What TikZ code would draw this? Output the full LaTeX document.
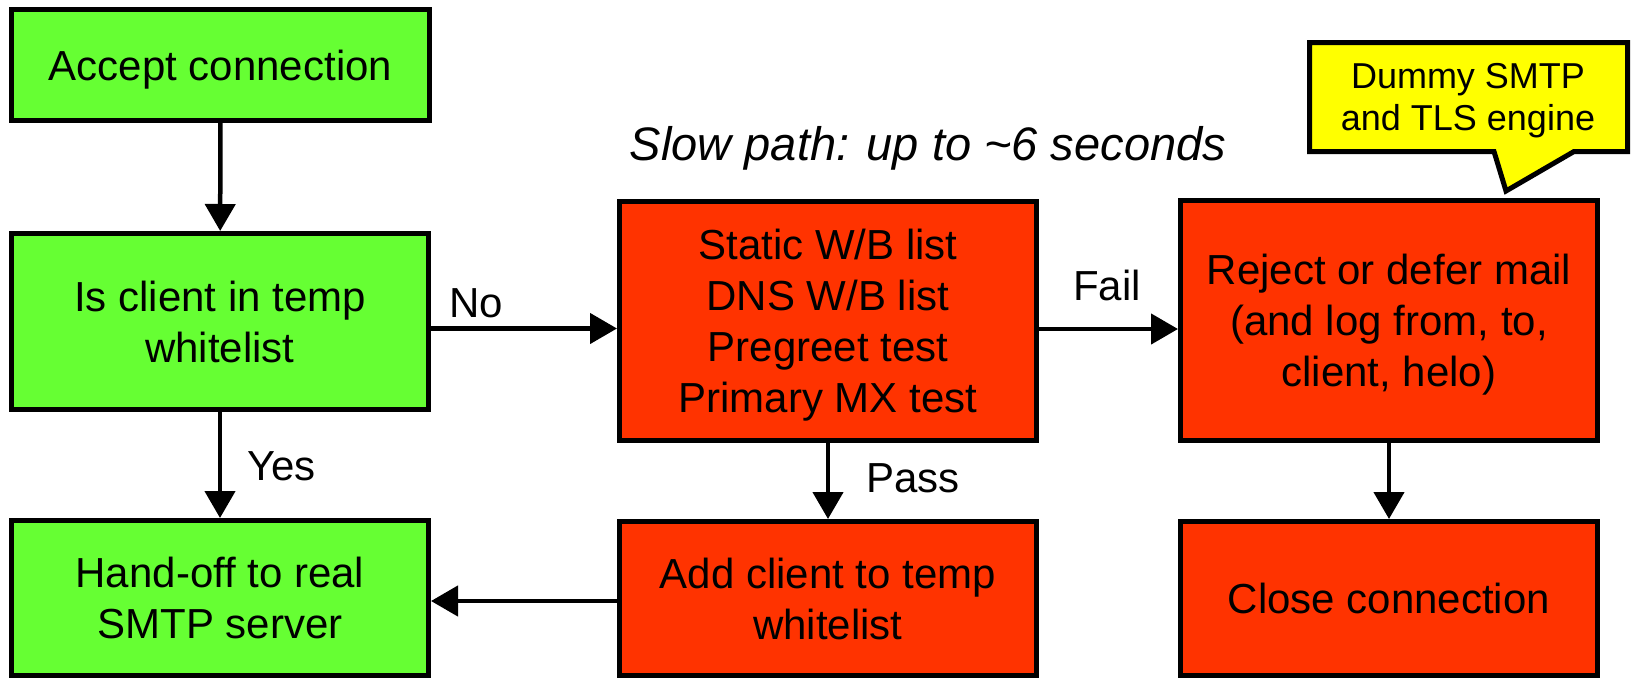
\documentclass[tikz,border=0pt]{standalone}
\usepackage{fontspec}
\setmainfont{Liberation Sans}
\usetikzlibrary{arrows.meta}
\definecolor{boxgreen}{RGB}{102,255,51}
\definecolor{boxred}{RGB}{255,51,0}
\definecolor{noteyellow}{RGB}{255,255,0}
\tikzset{
  stepbox/.style={draw=black, line width=5pt, rectangle, inner sep=0pt, align=center,
    minimum width=417pt, text depth=0pt, font=\fontsize{42}{51}\selectfont},
  greenbox/.style={stepbox, fill=boxgreen},
  redbox/.style={stepbox, fill=boxred},
  arr/.style={line width=4.5pt, -{Triangle[length=27pt,width=30pt]}},
  lbl/.style={inner sep=0pt, anchor=base west, font=\fontsize{42}{50}\selectfont},
}
\begin{document}
\begin{tikzpicture}[x=1pt,y=-1pt]
\useasboundingbox (0,0) rectangle (1631,680);

% nodes
\node[greenbox, minimum width=418pt, minimum height=111pt] (accept) at (220.5,65) {Accept connection};
\node[greenbox, minimum height=176pt] (wl) at (220,321.5) {Is client in temp\\whitelist};
\node[greenbox, minimum height=155pt] (handoff) at (220,598) {Hand-off to real\\SMTP server};
\node[redbox, minimum height=239pt] (static) at (828,321) {Static W/B list\\DNS W/B list\\Pregreet test\\Primary MX test};
\node[redbox, minimum height=154pt] (add) at (828,598.5) {Add client to temp\\whitelist};
\node[redbox, minimum height=240pt] (reject) at (1389,320.5) {Reject or defer mail\\(and log from, to,\\client, helo)};
\node[redbox, minimum height=154pt] (close) at (1389,598.5) {Close connection};

% callout
\filldraw[fill=noteyellow, draw=black, line width=5pt, line join=miter]
  (1309.5,42.5) -- (1627.5,42.5) -- (1627.5,151.5) -- (1574,151.5) -- (1506,191)
  -- (1494,151.5) -- (1309.5,151.5) -- cycle;
\node[inner sep=0pt, align=center, text depth=0pt, font=\fontsize{36}{42}\selectfont] (note) at (1468,97) {Dummy SMTP\\and TLS engine};

% heading
\node[inner sep=0pt, anchor=base, font=\fontsize{47}{54}\selectfont\itshape] (slow) at (928,160) {Slow path: up to \textasciitilde 6 seconds};

% connectors
\draw[arr] (accept) -- (wl);
\draw[arr] (wl) -- (handoff);
\draw[arr] ([yshift=-7pt]wl.east) -- ([yshift=-7pt]wl.east -| static.west);
\draw[arr] (static) -- (add);
\draw[arr] ([yshift=-8pt]static.east) -- ([yshift=-8pt]static.east -| reject.west);
\draw[arr] ([yshift=-2.5pt]add.west) -- ([yshift=-2.5pt]add.west -| handoff.east);
\draw[arr] (reject) -- (close);

% labels
\node[lbl] (nolbl) at (449,317) {No};
\node[lbl] (yeslbl) at (247,480) {Yes};
\node[lbl] (passlbl) at (866,492) {Pass};
\node[lbl] (faillbl) at (1073,300) {Fail};
\end{tikzpicture}
\end{document}
